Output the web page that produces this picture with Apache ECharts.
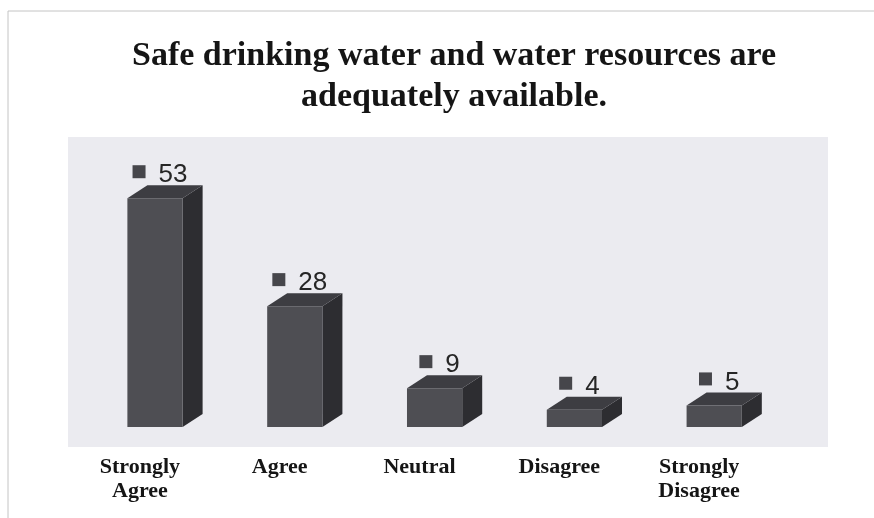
<!DOCTYPE html>
<html>
<head>
<meta charset="utf-8">
<script src="https://cdn.jsdelivr.net/npm/echarts@6/dist/echarts.min.js"></script>
<style>
html,body{margin:0;padding:0;background:#ffffff;}
#chart{width:874px;height:518px;}
</style>
</head>
<body>
<div id="chart"></div>
<script>
var categories = ['Strongly\nAgree', 'Agree', 'Neutral', 'Disagree', 'Strongly\nDisagree'];
var values = [53, 28, 9, 4, 5];
var titleText = 'Safe drinking water and water resources are\nadequately available.';

var chart = echarts.init(document.getElementById('chart'), null, {renderer: 'canvas'});

var DX = 20, DY = -13;
var LABEL_FS = 26, SQ = 13, GAP = 13;

function renderItem(params, api) {
  var idx = api.value(0);
  var val = api.value(1);
  var top = api.coord([idx, val]);
  var base = api.coord([idx, 0]);
  var band = api.size([1, 0])[0];
  var w = band * 0.395;
  var cx = top[0] + band * 0.108;
  var x0 = cx - w / 2, x1 = cx + w / 2;
  var yT = top[1], yB = base[1];
  var front = {type: 'rect', shape: {x: x0, y: yT, width: w, height: yB - yT},
    style: {fill: '#4e4e53'}};
  var side = {type: 'polygon', shape: {points: [[x1, yT], [x1 + DX, yT + DY], [x1 + DX, yB + DY], [x1, yB]]},
    style: {fill: '#2d2d31'}};
  var topFace = {type: 'polygon', shape: {points: [[x0, yT], [x0 + DX, yT + DY], [x1 + DX, yT + DY], [x1, yT]]},
    style: {fill: '#3d3d42'}};
  var txt = String(val);
  var tw = txt.length * 0.556 * LABEL_FS;
  var gw = SQ + GAP + tw;
  var gx = cx + 5 - gw / 2;
  var baseline = yT + DY - 2;
  var square = {type: 'rect', shape: {x: gx, y: baseline - 18, width: SQ, height: SQ},
    style: {fill: '#46464b'}};
  var label = {type: 'text', x: gx + SQ + GAP, y: baseline + 6,
    style: {
      text: txt, align: 'left', verticalAlign: 'bottom',
      fontSize: LABEL_FS, lineHeight: 28,
      fontFamily: '"Liberation Sans", Arial, sans-serif', fill: '#262626'
    }};
  return {type: 'group', children: [side, topFace, front, square, label]};
}

var option = {
  backgroundColor: '#ffffff',
  animation: false,
  title: {
    text: titleText,
    left: 449,
    top: 31,
    textAlign: 'center',
    textStyle: {
      fontFamily: '"Liberation Serif", "Times New Roman", serif',
      fontWeight: 'bold',
      fontSize: 34,
      lineHeight: 41,
      color: '#151515'
    }
  },
  graphic: [
    {type: 'rect', shape: {x: 68, y: 137, width: 760, height: 310}, style: {fill: '#ebebf0'}, z: -10},
    {type: 'polyline', shape: {points: [[8, 518], [8, 11], [874, 11]]}, style: {stroke: '#c4c4c4', lineWidth: 1, fill: null}, z: -10}
  ],
  grid: {left: 70, right: 105, top: 168, bottom: 91},
  xAxis: {
    type: 'category',
    data: categories,
    axisLine: {show: false},
    axisTick: {show: false},
    axisLabel: {
      margin: 28,
      interval: 0,
      fontFamily: '"Liberation Serif", "Times New Roman", serif',
      fontWeight: 'bold',
      fontSize: 22,
      lineHeight: 24,
      color: '#151515'
    }
  },
  yAxis: {
    type: 'value',
    min: 0,
    max: 60,
    show: false,
    splitLine: {show: false}
  },
  series: [{
    type: 'custom',
    renderItem: renderItem,
    data: values.map(function (v, i) { return [i, v]; }),
    encode: {x: 0, y: 1}
  }]
};
chart.setOption(option);
</script>
</body>
</html>
